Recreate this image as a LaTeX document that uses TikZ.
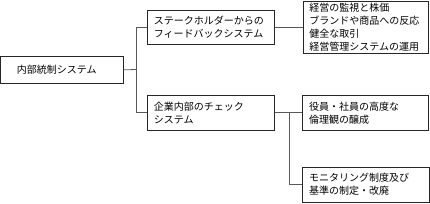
\documentclass[tikz,border=0pt]{standalone}
\usepackage{fontspec}
\newfontfamily\cjk{Noto Sans CJK JP}
\begin{document}
\begin{tikzpicture}[x=1pt,y=-1pt,
  box/.style={draw=black!85, line width=0.7pt, anchor=north west, inner xsep=6.5pt, inner ysep=0pt,
    align=left, font=\cjk\fontsize{10}{13}\selectfont},
  conn/.style={draw=black!65, line width=0.8pt}]
\useasboundingbox (0,0) rectangle (430,203);
\node[box, inner xsep=16pt, text width=90.8pt, minimum height=27.6pt] (b1) at (0.5,55.7) {内部統制システム};
\node[box, text width=114pt, minimum height=33.7pt] (b2) at (147,10) {ステークホルダーからの\\フィードバックシステム};
\node[box, text width=112.5pt, minimum height=52.3pt] (b3) at (302.5,1) {経営の監視と株価\\ブランドや商品への反応\\健全な取引\\経営管理システムの運用};
\node[box, text width=114pt, minimum height=35pt] (b4) at (147,95) {企業内部のチェック\\システム};
\node[box, text width=112.7pt, minimum height=35pt] (b5) at (302.3,95) {役員・社員の高度な\\倫理観の醸成};
\node[box, text width=113.2pt, minimum height=35pt] (b6) at (302.3,166.7) {モニタリング制度及び\\基準の制定・改廃};
\coordinate (j1) at (136.5,69.5);
\coordinate (j2) at (289,112.5);
\draw[conn] (b1.east) -- (j1);
\draw[conn] (b2.west) -| (j1) |- (b4.west);
\draw[conn] (b2.east) -- (b2.east -| b3.west);
\draw[conn] (b4.east) -- (b5.west);
\draw[conn] (j2) |- (b6.west);
\end{tikzpicture}
\end{document}
